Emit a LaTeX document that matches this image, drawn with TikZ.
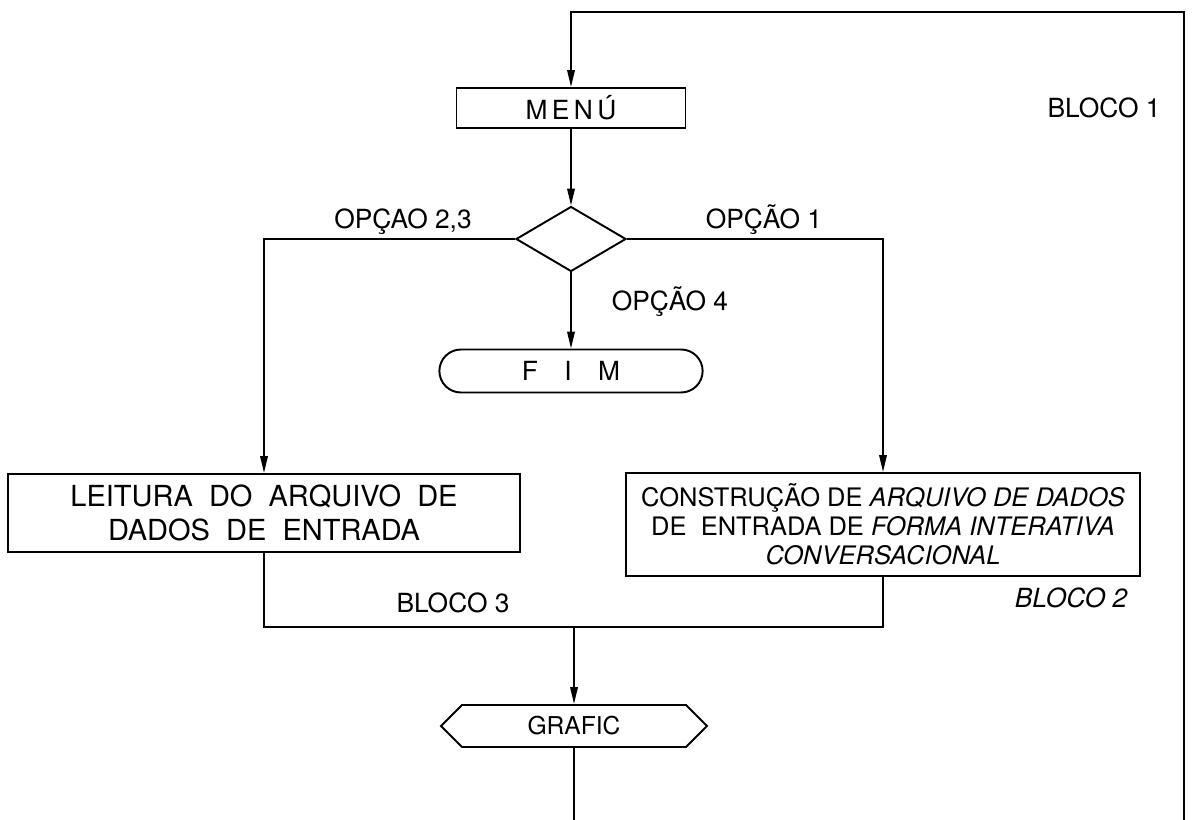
\documentclass[tikz,border=0pt]{standalone}
\usepackage{fontspec}
\setmainfont{TeX Gyre Heros}
\usepackage{tikz}
\usetikzlibrary{arrows.meta,shapes.geometric,shapes.misc,shapes.symbols}

\begin{document}
\begin{tikzpicture}[x=0.02cm,y=-0.02cm,>={Triangle[length=3.4mm,width=1.5mm]},line width=1.1pt,
  box/.style={draw,inner sep=2pt,align=center},
  lbl/.style={font=\fontsize{15}{18}\selectfont}]
\useasboundingbox (0,0) rectangle (1192,820);
\node[box,minimum width=4.58cm,minimum height=0.8cm,font=\fontsize{15}{18}\selectfont] (menu) at (571,108) {M\,E\,N\,Ú};
\node[draw,diamond,minimum width=2.2cm,minimum height=1.3cm,inner sep=0pt] (dec) at (571,239) {};
\node[draw,rounded rectangle,minimum width=5.5cm,minimum height=0.86cm,font=\fontsize{15}{18}\selectfont] (fim) at (571,371) {F\quad I\quad M};
\node[box,minimum width=10.24cm,minimum height=1.56cm,font=\fontsize{16.5}{19.5}\selectfont] (leit) at (264,513) {LEITURA\ \ DO\ \ ARQUIVO\ \ DE\\DADOS\ \ DE\ \ ENTRADA};
\node[box,minimum width=10.28cm,minimum height=2.06cm,font=\fontsize{14.5}{16.5}\selectfont] (cons) at (883,524.5) {CONSTRUÇÃO DE \textit{ARQUIVO DE DADOS}\\DE\ \ ENTRADA DE \textit{FORMA INTERATIVA}\\\textit{CONVERSACIONAL}};
\node[draw,signal,signal to=west and east,signal pointer angle=90,minimum width=5.32cm,minimum height=0.84cm,inner sep=2pt,font=\fontsize{14}{17}\selectfont] (graf) at (574,726) {GRAFIC};
\node[lbl] (o23) at (403,222) {OPÇAO 2,3};
\node[lbl] (o1) at (764,220) {OPÇÃO 1};
\node[lbl] (o4) at (670,302) {OPÇÃO 4};
\node[lbl] (b1) at (1104,108) {BLOCO 1};
\node[lbl] (b3) at (453,603) {BLOCO 3};
\node[lbl,font=\fontsize{15}{18}\selectfont\itshape] (b2) at (1071,598) {BLOCO 2};
\coordinate (rb) at (1184,820);
\coordinate (rt) at (1184,12);
\coordinate (join) at (574,627);
\coordinate (exit) at (574,820);
\draw[->] (rb) -- (rt) -| (menu.north);
\draw[->] (menu) -- (dec);
\draw[->] (dec.west) -| (leit.north);
\draw[->] (dec.east) -| (cons.north);
\draw[->] (dec.south) -- (fim.north);
\draw (leit.south) |- (join) -| (cons.south);
\draw[->] (join) -- (graf.north);
\draw (graf.south) -- (exit);
\end{tikzpicture}
\end{document}
